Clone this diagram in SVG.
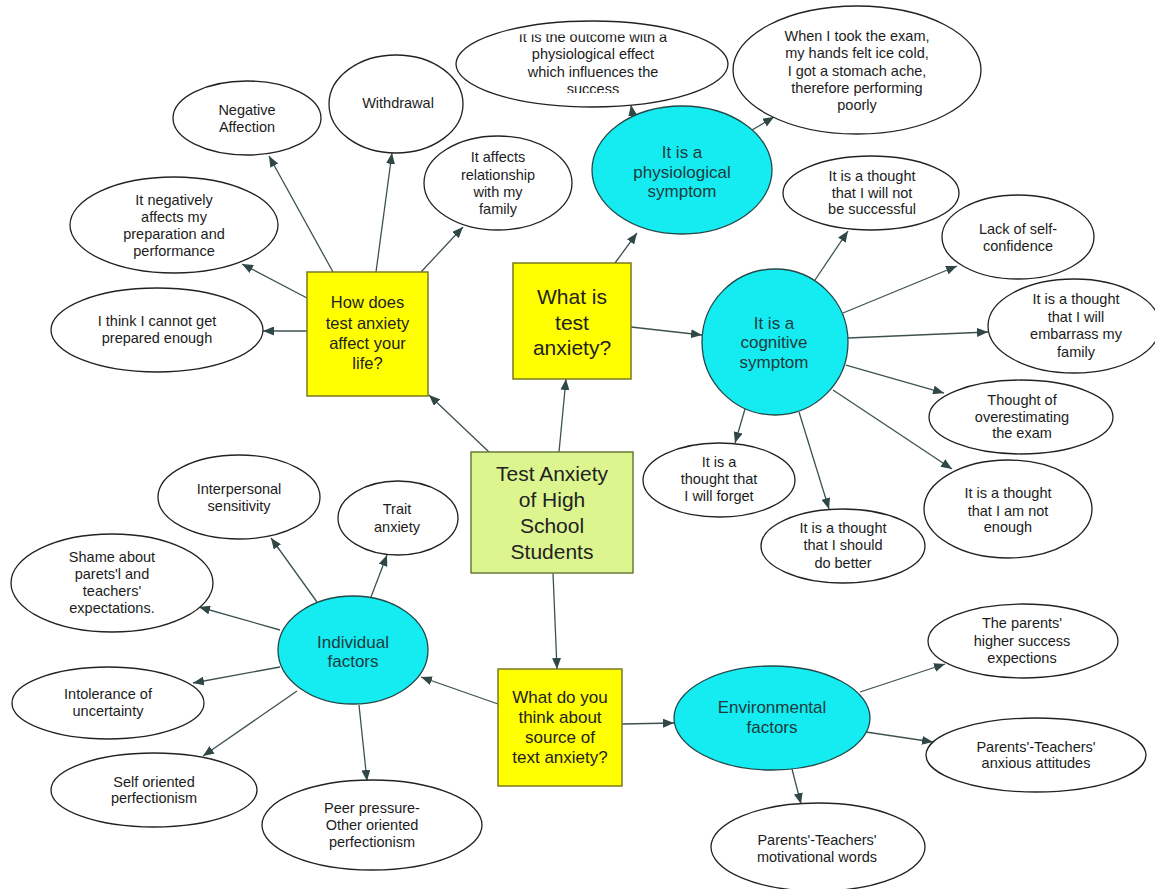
<svg xmlns="http://www.w3.org/2000/svg" width="1155" height="889" viewBox="0 0 1155 889">
<defs>
<marker id="ah" markerUnits="userSpaceOnUse" markerWidth="11" markerHeight="9" refX="11" refY="4.5" orient="auto"><path d="M0,0 L11,4.5 L0,9 z" fill="#2f4747"/></marker>
<clipPath id="clipOut"><rect x="440" y="34.5" width="300" height="58.5"/></clipPath>
</defs>
<style>
.e{fill:#fff;stroke:#222;stroke-width:1.3}
.c{fill:#14ecf2;stroke:#244848;stroke-width:1.3}
.y{fill:#ffff00;stroke:#7a7a22;stroke-width:1.5}
.g{fill:#dcf58e;stroke:#6a7a3a;stroke-width:1.5}
text{font-family:"Liberation Sans",Arial,sans-serif;text-anchor:middle}
.t{font-size:14.5px;fill:#1c1c1c}
.ct{font-size:17px;fill:#1d3b3d}
.yt{font-size:16.5px;fill:#222}
.bt{font-size:21px;fill:#222}
#connectors line{stroke:#3e5151;stroke-width:1.3;marker-end:url(#ah)}
</style>
<rect width="1155" height="889" fill="#fff"/>
<g id="connectors">
<line x1="333" y1="272" x2="269" y2="156"/>
<line x1="376" y1="272" x2="392" y2="153"/>
<line x1="421" y1="272" x2="463" y2="227"/>
<line x1="307" y1="298" x2="242" y2="264"/>
<line x1="307" y1="331" x2="263" y2="331"/>
<line x1="615" y1="263" x2="637" y2="233"/>
<line x1="633" y1="117" x2="631" y2="105"/>
<line x1="752" y1="130" x2="774" y2="117"/>
<line x1="631" y1="327" x2="702" y2="335"/>
<line x1="815" y1="280" x2="848" y2="231"/>
<line x1="843" y1="313" x2="957" y2="266"/>
<line x1="848" y1="338" x2="988" y2="332"/>
<line x1="846" y1="365" x2="944" y2="393"/>
<line x1="833" y1="390" x2="952" y2="469"/>
<line x1="745" y1="409" x2="735" y2="443"/>
<line x1="799" y1="412" x2="829" y2="509"/>
<line x1="559" y1="452" x2="566" y2="379"/>
<line x1="489" y1="452" x2="429" y2="395"/>
<line x1="553" y1="573" x2="557" y2="669"/>
<line x1="498" y1="704" x2="421" y2="677"/>
<line x1="622" y1="724" x2="674" y2="723"/>
<line x1="317" y1="602" x2="271" y2="538"/>
<line x1="371" y1="597" x2="387" y2="555"/>
<line x1="280" y1="630" x2="199" y2="607"/>
<line x1="280" y1="667" x2="193" y2="683"/>
<line x1="297" y1="691" x2="203" y2="756"/>
<line x1="359" y1="705" x2="367" y2="781"/>
<line x1="860" y1="692" x2="945" y2="664"/>
<line x1="866" y1="732" x2="933" y2="742"/>
<line x1="792" y1="769" x2="801" y2="804"/>
</g>
<g id="n_how"><rect class="y" x="307" y="272" width="121" height="124"/><text class="yt" x="367.5"><tspan x="367.5" y="308">How does</tspan><tspan x="367.5" y="329">test anxiety</tspan><tspan x="367.5" y="349">affect your</tspan><tspan x="367.5" y="369">life?</tspan></text></g>
<g id="n_what"><rect class="y" x="513" y="263" width="118" height="116"/><text class="bt"><tspan x="572" y="303.5">What is</tspan><tspan x="572" y="329.5">test</tspan><tspan x="572" y="354.5">anxiety?</tspan></text></g>
<g id="n_main"><rect class="g" x="471" y="452" width="162" height="121"/><text class="bt"><tspan x="552" y="481">Test Anxiety</tspan><tspan x="552" y="507">of High</tspan><tspan x="552" y="533">School</tspan><tspan x="552" y="559">Students</tspan></text></g>
<g id="n_source"><rect class="y" x="498" y="669" width="124" height="117"/><text class="yt" style="font-size:17px"><tspan x="560" y="703">What do you</tspan><tspan x="560" y="723">think about</tspan><tspan x="560" y="743">source of</tspan><tspan x="560" y="763">text anxiety?</tspan></text></g>
<g id="n_phys"><ellipse class="c" cx="682" cy="170" rx="90" ry="64"/><text class="ct"><tspan x="682" y="158">It is a</tspan><tspan x="682" y="178">physiological</tspan><tspan x="682" y="197">symptom</tspan></text></g>
<g id="n_cog"><circle class="c" cx="775" cy="342" r="73"/><text class="ct"><tspan x="774" y="329">It is a</tspan><tspan x="774" y="348">cognitive</tspan><tspan x="774" y="368">symptom</tspan></text></g>
<g id="n_ind"><ellipse class="c" cx="353" cy="650" rx="75" ry="54"/><text class="ct"><tspan x="353" y="648">Individual</tspan><tspan x="353" y="667">factors</tspan></text></g>
<g id="n_env"><ellipse class="c" cx="772" cy="718" rx="98" ry="52"/><text class="ct"><tspan x="772" y="713">Environmental</tspan><tspan x="772" y="733">factors</tspan></text></g>
<g id="n_neg"><ellipse class="e" cx="247" cy="118" rx="74" ry="37"/><text class="t"><tspan x="247" y="115">Negative</tspan><tspan x="247" y="132">Affection</tspan></text></g>
<g id="n_withdrawal"><ellipse class="e" cx="396" cy="104" rx="67" ry="49"/><text class="t"><tspan x="398" y="108">Withdrawal</tspan></text></g>
<g id="n_prep"><ellipse class="e" cx="174" cy="225" rx="104" ry="48"/><text class="t"><tspan x="174" y="205">It negatively</tspan><tspan x="174" y="222">affects my</tspan><tspan x="174" y="239">preparation and</tspan><tspan x="174" y="256">performance</tspan></text></g>
<g id="n_ithink"><ellipse class="e" cx="157" cy="330" rx="106" ry="42"/><text class="t"><tspan x="157" y="326">I think I cannot get</tspan><tspan x="157" y="343">prepared enough</tspan></text></g>
<g id="n_rel"><ellipse class="e" cx="498" cy="183" rx="74" ry="47"/><text class="t"><tspan x="498" y="162">It affects</tspan><tspan x="498" y="179.5">relationship</tspan><tspan x="498" y="197">with my</tspan><tspan x="498" y="214">family</tspan></text></g>
<g id="n_outcome"><ellipse class="e" cx="592" cy="64" rx="136" ry="43"/><text class="t" clip-path="url(#clipOut)"><tspan x="593" y="42">It is the outcome with a</tspan><tspan x="593" y="59.3">physiological effect</tspan><tspan x="593" y="76.6">which influences the</tspan><tspan x="593" y="94">success</tspan></text></g>
<g id="n_when"><ellipse class="e" cx="857" cy="70" rx="124" ry="64"/><text class="t"><tspan x="857" y="41">When I took the exam,</tspan><tspan x="857" y="58">my hands felt ice cold,</tspan><tspan x="857" y="75.5">I got a stomach ache,</tspan><tspan x="857" y="93">therefore performing</tspan><tspan x="857" y="110">poorly</tspan></text></g>
<g id="n_notsucc"><ellipse class="e" cx="871" cy="193" rx="88" ry="37"/><text class="t"><tspan x="872" y="181">It is a thought</tspan><tspan x="872" y="198">that I will not</tspan><tspan x="872" y="214">be successful</tspan></text></g>
<g id="n_lack"><ellipse class="e" cx="1018" cy="237" rx="76" ry="42"/><text class="t"><tspan x="1018" y="234">Lack of self-</tspan><tspan x="1018" y="251">confidence</tspan></text></g>
<g id="n_embarrass"><ellipse class="e" cx="1074" cy="326" rx="86" ry="47"/><text class="t"><tspan x="1076" y="304">It is a thought</tspan><tspan x="1076" y="322">that I will</tspan><tspan x="1076" y="339">embarrass my</tspan><tspan x="1076" y="357">family</tspan></text></g>
<g id="n_overest"><ellipse class="e" cx="1021" cy="417" rx="92" ry="37"/><text class="t"><tspan x="1022" y="405">Thought of</tspan><tspan x="1022" y="422">overestimating</tspan><tspan x="1022" y="438">the exam</tspan></text></g>
<g id="n_notenough"><ellipse class="e" cx="1008" cy="509" rx="84" ry="49"/><text class="t"><tspan x="1008" y="498">It is a thought</tspan><tspan x="1008" y="516">that I am not</tspan><tspan x="1008" y="532">enough</tspan></text></g>
<g id="n_forget"><ellipse class="e" cx="719" cy="480" rx="76" ry="37"/><text class="t"><tspan x="719" y="467">It is a</tspan><tspan x="719" y="484">thought that</tspan><tspan x="719" y="501">I will forget</tspan></text></g>
<g id="n_better"><ellipse class="e" cx="843" cy="546" rx="82" ry="37"/><text class="t"><tspan x="843" y="533">It is a thought</tspan><tspan x="843" y="550">that I should</tspan><tspan x="843" y="568">do better</tspan></text></g>
<g id="n_interp"><ellipse class="e" cx="239" cy="497" rx="81" ry="42"/><text class="t"><tspan x="239" y="494">Interpersonal</tspan><tspan x="239" y="511">sensitivity</tspan></text></g>
<g id="n_trait"><ellipse class="e" cx="398" cy="518" rx="60" ry="37"/><text class="t"><tspan x="397" y="514">Trait</tspan><tspan x="397" y="532">anxiety</tspan></text></g>
<g id="n_shame"><ellipse class="e" cx="112" cy="583" rx="101" ry="49"/><text class="t"><tspan x="112" y="562">Shame about</tspan><tspan x="112" y="579">parets'l and</tspan><tspan x="112" y="596">teachers'</tspan><tspan x="112" y="613">expectations.</tspan></text></g>
<g id="n_intol"><ellipse class="e" cx="108" cy="703" rx="96" ry="36"/><text class="t"><tspan x="108" y="699">Intolerance of</tspan><tspan x="108" y="716">uncertainty</tspan></text></g>
<g id="n_self"><ellipse class="e" cx="154" cy="790" rx="103" ry="37"/><text class="t"><tspan x="154" y="787">Self oriented</tspan><tspan x="154" y="803">perfectionism</tspan></text></g>
<g id="n_peer"><ellipse class="e" cx="372" cy="825" rx="110" ry="45"/><text class="t"><tspan x="372" y="813">Peer pressure-</tspan><tspan x="372" y="830">Other oriented</tspan><tspan x="372" y="847">perfectionism</tspan></text></g>
<g id="n_parents"><ellipse class="e" cx="1023" cy="641" rx="95" ry="37"/><text class="t"><tspan x="1022" y="628">The parents'</tspan><tspan x="1022" y="646">higher success</tspan><tspan x="1022" y="663">expections</tspan></text></g>
<g id="n_anxious"><ellipse class="e" cx="1036" cy="755" rx="110" ry="37"/><text class="t"><tspan x="1036" y="752">Parents'-Teachers'</tspan><tspan x="1036" y="768">anxious attitudes</tspan></text></g>
<g id="n_motiv"><ellipse class="e" cx="818" cy="847" rx="107" ry="44"/><text class="t"><tspan x="817" y="845">Parents'-Teachers'</tspan><tspan x="817" y="862">motivational words</tspan></text></g>
</svg>
